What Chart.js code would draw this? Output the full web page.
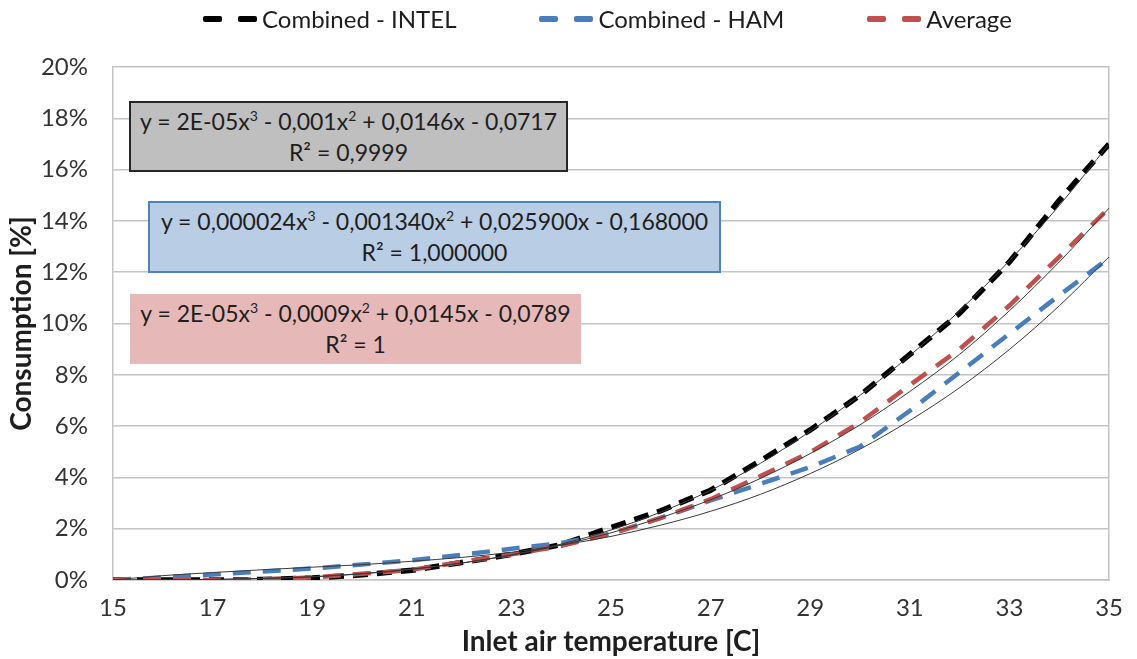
<!DOCTYPE html>
<html>
<head>
<meta charset="utf-8">
<script src="https://cdn.jsdelivr.net/npm/chart.js@4.4.1/dist/chart.umd.min.js"></script>
<style>
  body { margin: 0; background: #fff; }
  #wrap { position: relative; width: 1137px; height: 659px; font-family: Lato, 'Open Sans', sans-serif; color: #1e1e1e; }
  #legend { position: absolute; top: 4px; left: 203px; display: flex; gap: 83px; font-size: 24px; }
  .item { display: flex; align-items: center; }
  .dash { display: inline-block; width: 19px; height: 6px; border-radius: 2px; margin-right: 16px; }
  .dash + .dash { margin-right: 5px; }
  .eq { position: absolute; box-sizing: border-box; display: flex; flex-direction: column; justify-content: center; align-items: center; font-size: 23px; line-height: 31px; white-space: nowrap; }
  .eq sup { font-size: 14px; line-height: 0; vertical-align: 9px; }
</style>
</head>
<body>
<div id="wrap">
  <canvas id="grafico"></canvas>
  <div id="legend"></div>
  <div class="eq" style="left:129px;top:101px;width:439px;height:71px;background:#bfbfbf;border:2px solid #262626">
    <div>y = 2E-05x<sup>3</sup> - 0,001x<sup>2</sup> + 0,0146x - 0,0717</div>
    <div>R² = 0,9999</div>
  </div>
  <div class="eq" style="left:148px;top:201px;width:573px;height:72px;background:#b9cde5;border:2px solid #4f81bd">
    <div>y = 0,000024x<sup>3</sup> - 0,001340x<sup>2</sup> + 0,025900x - 0,168000</div>
    <div>R² = 1,000000</div>
  </div>
  <div class="eq" style="left:130px;top:294px;width:451px;height:70px;background:#e6b9b8">
    <div>y = 2E-05x<sup>3</sup> - 0,0009x<sup>2</sup> + 0,0145x - 0,0789</div>
    <div>R² = 1</div>
  </div>
</div>
<script>
// temperatura de entrada [C]
const temperaturas = [15, 16, 17, 18, 19, 20, 21, 22, 23, 24, 25, 26, 27, 28, 29, 30, 31, 32, 33, 34, 35];

// consumo [%]
const consumoIntel = [0, 0, 0, 0.02, 0.08, 0.2, 0.38, 0.68, 1.0, 1.38, 2.05, 2.7, 3.5, 4.65, 5.85, 7.2, 8.8, 10.4, 12.4, 14.8, 17.0];
const consumoHam   = [0, 0.1, 0.21, 0.33, 0.45, 0.6, 0.77, 0.98, 1.22, 1.44, 1.8, 2.42, 3.1, 3.75, 4.4, 5.2, 6.6, 8.1, 9.6, 11.1, 12.55];
const consumoMedia = [0, 0, 0, 0.03, 0.1, 0.24, 0.4, 0.7, 1.0, 1.33, 1.8, 2.42, 3.15, 4.05, 4.98, 6.15, 7.6, 9.0, 10.7, 12.6, 14.5];

// linhas de tendência (finas, pretas)
const tendIntel = [0, 0, 0.02, 0.06, 0.12, 0.24, 0.42, 0.66, 0.98, 1.4, 1.95, 2.65, 3.5, 4.55, 5.8, 7.2, 8.75, 10.5, 12.45, 14.6, 17.0];
const tendHam   = [0, 0.17, 0.29, 0.4, 0.5, 0.6, 0.73, 0.88, 1.08, 1.36, 1.7, 2.14, 2.68, 3.34, 4.15, 5.1, 6.22, 7.5, 8.99, 10.69, 12.6];
const tendMedia = [0, 0, 0.02, 0.06, 0.13, 0.25, 0.42, 0.66, 0.97, 1.36, 1.84, 2.43, 3.13, 3.96, 4.93, 6.05, 7.35, 8.8, 10.5, 12.4, 14.5];

const yTicks = [0, 2, 4, 6, 8, 10, 12, 14, 16, 18, 20];

// ordem: a última série (Average) fica por cima, como no Excel
const series = [
  { nome: 'Combined - INTEL', dados: consumoIntel, cor: '#000000', largura: 5.5, dash: [15, 9],  ordem: 3 },
  { nome: 'Combined - HAM',   dados: consumoHam,   cor: '#4a7ebb', largura: 4.5, dash: [18, 12], ordem: 2 },
  { nome: 'Average',          dados: consumoMedia, cor: '#c0504d', largura: 4.5, dash: [18, 12], ordem: 1 },
];
const tendencias = [tendIntel, tendHam, tendMedia];

const pontos = arr => temperaturas.map((t, i) => ({ x: t, y: arr[i] }));

const datasets = [];
tendencias.forEach(t => {
  datasets.push({ data: pontos(t), borderColor: '#3a3a3a', borderWidth: 1, pointRadius: 0,
    cubicInterpolationMode: 'monotone', order: 0 });
});
series.forEach(s => {
  datasets.push({ label: s.nome, data: pontos(s.dados), borderColor: s.cor, borderWidth: s.largura,
    borderDash: s.dash, borderCapStyle: 'butt', pointRadius: 0, tension: 0, order: s.ordem });
});

// legenda em HTML
const leg = document.getElementById('legend');
leg.innerHTML = series.map(s => `<div class="item">
  <span class="dash" style="background:${s.cor}"></span><span class="dash" style="background:${s.cor}"></span>
  <span>${s.nome}</span></div>`).join('');

const fonte = "Lato, 'Open Sans', sans-serif";
const corTexto = '#333333';
const corGrade = '#c4c4c4';

new Chart(document.getElementById('grafico'), {
  type: 'line',
  data: { datasets },
  options: {
    responsive: true, maintainAspectRatio: false, animation: false,
    layout: { padding: { top: 67, left: 0, right: 0, bottom: 0 } },
    plugins: { legend: { display: false }, tooltip: { enabled: false } },
    scales: {
      x: {
        type: 'linear', min: 15, max: 35,
        afterFit: s => { s.height = 79; },
        ticks: { stepSize: 2, padding: 14, color: corTexto, font: { size: 24, family: fonte } },
        grid: { display: false, drawTicks: false },
        border: { display: true, color: corGrade, width: 1.5 },
        title: { display: true, text: 'Inlet air temperature [C]', color: '#1e1e1e', padding: { top: 0, bottom: 0 },
          font: { size: 28, weight: 'bold', family: fonte } },
      },
      y: {
        min: 0, max: 20,
        afterFit: s => { s.width = 113; },
        afterBuildTicks: s => { s.ticks = yTicks.map(v => ({ value: v })); },
        ticks: { padding: 25, color: corTexto, callback: v => v + '%', font: { size: 24, family: fonte } },
        grid: { color: corGrade, lineWidth: 1.5, drawTicks: false },
        border: { display: true, color: corGrade, width: 1.5 },
        title: { display: true, text: 'Consumption [%]', color: '#1e1e1e', padding: { top: 5, bottom: 0 },
          font: { size: 28, weight: 'bold', family: fonte } },
      },
      y2: {
        position: 'right', min: 0, max: 20,
        afterFit: s => { s.width = 24; },
        ticks: { display: false },
        grid: { drawOnChartArea: false, drawTicks: false },
        border: { display: true, color: corGrade, width: 1.5 },
      },
    },
  },
});
</script>
</body>
</html>
